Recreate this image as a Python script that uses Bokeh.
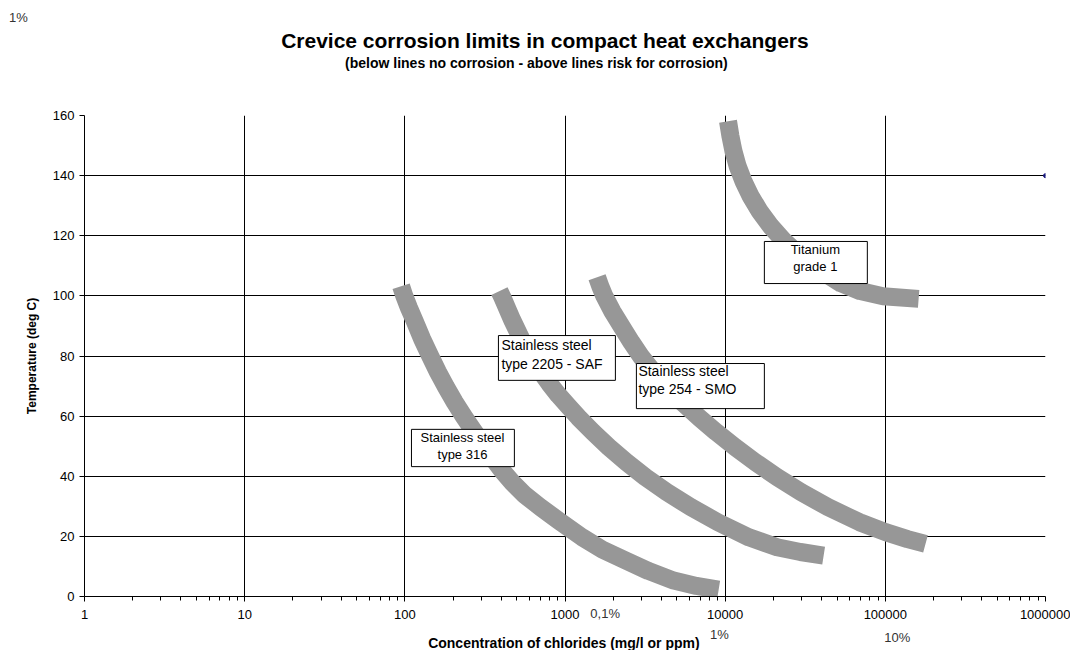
import math
from bokeh.plotting import figure
from bokeh.models import Label, BoxAnnotation, FixedTicker
from bokeh.embed import file_html
from bokeh.resources import INLINE

FONT = "Liberation Sans"

# ---- axes ----
x_tick_values = [1, 10, 100, 1000, 10000, 100000, 1000000]
x_tick_labels = ["1", "10", "100", "1000", "10000", "100000", "1000000"]
x_grid_values = [10, 100, 1000, 10000, 100000]
y_tick_values = [0, 20, 40, 60, 80, 100, 120, 140, 160]
y_grid_values = [20, 40, 60, 80, 100, 120, 140]

# ---- series (chlorides mg/l, temperature deg C) ----
ss316_ppm = [94.8, 99.0, 106.1, 114.8, 127.9, 144.5, 160.9, 181.1, 204.6, 233.2, 265.4,
             305.1, 349.7, 404.9, 469.6, 557.9, 702.3, 909.9, 1279, 1712, 2383, 3316,
             4770, 6612, 9108]
ss316_temp = [103.2, 100.1, 96.0, 91.8, 85.8, 79.8, 74.7, 69.6, 64.7, 59.9, 55.5,
              50.9, 46.4, 41.9, 37.9, 33.9, 29.7, 25.3, 19.7, 15.6, 12.0, 8.5,
              5.3, 3.5, 2.3]

ss2205_ppm = [389.5, 406.7, 436.9, 469.6, 511.8, 557.9, 625.9, 702.3, 799.0, 909.9, 1050,
              1212, 1493, 1879, 2417, 3176, 4325, 6108, 9004, 14060, 21090, 29480, 41200]
ss2205_temp = [101.6, 99.5, 95.6, 91.8, 87.7, 83.5, 79.2, 75.0, 70.8, 67.0, 63.3,
               59.6, 54.7, 49.7, 44.7, 39.7, 34.7, 29.7, 24.7, 19.7, 16.4, 14.8, 13.6]

ss254_ppm = [1586, 1663, 1762, 1977, 2272, 2597, 3007, 3573, 4357, 5405, 6854,
             8787, 11510, 15410, 21090, 29780, 43890, 69040, 100300, 137600, 178200]
ss254_temp = [106.2, 103.1, 99.9, 94.8, 89.6, 84.6, 79.6, 74.6, 69.6, 64.6, 59.6,
              54.7, 49.7, 44.7, 39.7, 34.7, 29.7, 24.7, 21.4, 19.1, 17.5]

ti_ppm = [10420, 10790, 11270, 11970, 12990, 14410, 16400, 19230, 23360, 29610,
          40030, 52760, 69530, 96750, 161400]
ti_temp = [158.1, 153.1, 148.1, 143.1, 138.2, 133.2, 128.2, 123.2, 118.2, 113.2,
           108.2, 104.2, 101.6, 99.9, 99.0]

marker_ppm = [1000000]
marker_temp = [140]

p = figure(width=1070, height=650, x_axis_type="log",
           x_range=(1, 1000000), y_range=(0, 160),
           output_backend="svg", toolbar_location=None,
           min_border_left=84, min_border_right=25,
           min_border_top=115, min_border_bottom=54)
p.outline_line_color = None
p.background_fill_color = "white"

# grid
p.xgrid.ticker = FixedTicker(ticks=x_grid_values)
p.ygrid.ticker = FixedTicker(ticks=y_grid_values)
for g in (p.xgrid, p.ygrid):
    g.grid_line_color = "black"
    g.grid_line_width = 1
    g.grid_line_alpha = 1

# x axis
minor = [m * 10 ** k for k in range(6) for m in range(2, 10)]
p.xaxis.ticker = FixedTicker(ticks=x_tick_values, minor_ticks=minor)
p.xaxis.major_label_overrides = {v: s for v, s in zip(x_tick_values, x_tick_labels)}
p.xaxis.major_tick_in = 0
p.xaxis.major_tick_out = 5
p.xaxis.minor_tick_in = 0
p.xaxis.minor_tick_out = 4
p.xaxis.minor_tick_line_color = "black"
p.xaxis.major_label_standoff = 8

# y axis
p.yaxis.ticker = FixedTicker(ticks=y_tick_values)
p.yaxis.major_tick_in = 0
p.yaxis.major_tick_out = 5
p.yaxis.minor_tick_line_color = None
p.yaxis.major_label_standoff = 5
p.yaxis.axis_label = "Temperature (deg C)"
p.yaxis.axis_label_standoff = 11

for ax in (p.xaxis, p.yaxis):
    ax.axis_line_color = "black"
    ax.major_tick_line_color = "black"
    ax.major_label_text_font = FONT
    ax.major_label_text_font_size = "13px"
    ax.major_label_text_color = "black"
    ax.axis_label_text_font = FONT
    ax.axis_label_text_font_style = "bold"
    ax.axis_label_text_color = "black"
p.yaxis.axis_label_text_font_size = "12px"

CURVE = "#979797"
for xs, ys in ((ss316_ppm, ss316_temp), (ss2205_ppm, ss2205_temp),
               (ss254_ppm, ss254_temp), (ti_ppm, ti_temp)):
    p.line(xs, ys, line_width=18, line_color=CURVE, line_cap="butt", line_join="round")

p.scatter(marker_ppm, marker_temp, size=4, color="#1a1a80")

# label boxes (left, right, bottom, top in data coords)
boxes = [(110, 483, 43.2, 55.6), (384, 2064, 71.9, 86.8),
         (2791, 17570, 62.5, 77.5), (17570, 77200, 104.1, 118.1)]
for l, r, b, t in boxes:
    p.add_layout(BoxAnnotation(left=l, right=r, bottom=b, top=t,
                               fill_color="white", fill_alpha=1,
                               line_color="black", line_width=1, line_alpha=1))

def add_text(x, y, text, size="13px", align="center", bold=False, color="black",
             place="center"):
    p.add_layout(Label(x=x, y=y, text=text, text_font=FONT, text_font_size=size,
                       text_align=align, text_baseline="middle", text_color=color,
                       text_font_style="bold" if bold else "normal"), place)

add_text(229, 52.9, "Stainless steel", "13px")
add_text(229, 47.2, "type 316", "13px")
add_text(401, 83.5, "Stainless steel", "14px", "left")
add_text(401, 77.5, "type 2205 - SAF", "14px", "left")
add_text(2872, 74.9, "Stainless steel", "14px", "left")
add_text(2872, 68.9, "type 254 - SMO", "14px", "left")
add_text(36560, 115.3, "Titanium", "13px")
add_text(36560, 109.9, "grade 1", "13px")

# texts outside the frame (placed in side panels so they are not clipped)
add_text(749, 185.0, "Crevice corrosion limits in compact heat exchangers", "21px",
         bold=True, place="above")
add_text(663, 177.6, "(below lines no corrosion - above lines risk for corrosion)", "14px",
         bold=True, place="above")
add_text(984, -15.6, "Concentration of chlorides (mg/l or ppm)", "14px",
         bold=True, place="above")
add_text(1440, -5.66, "0,1%", "13px", "left", color="#333333", place="above")
add_text(118900, -13.6, "10%", "13px", color="#333333", place="above")
add_text(0.387, 192.6, "1%", "13px", color="#333333", place="left")
add_text(9200, -12.6, "1%", "13px", color="#333333", place="right")

open("out.html", "w").write(file_html(p, INLINE))
